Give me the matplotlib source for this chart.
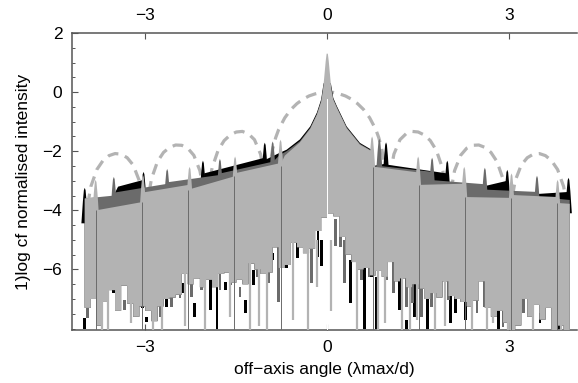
import numpy as np
import matplotlib.pyplot as plt
from matplotlib.ticker import MultipleLocator

# > Fonts
plt.rcParams['font.family'] = ['Liberation Sans', 'DejaVu Sans']

# > Colours (one per wavelength) and envelope
c_black, c_dark, c_light = '#000000', '#6b6b6b', '#b3b3b3'
c_dash = '#b3b3b3'

# > Single aperture envelope (dashed arcs)
env_x = [-3.95, -3.9, -3.8, -3.7, -3.6, -3.5, -3.4, -3.3, -3.2, -3.1, -3.05, -3.0,
         -2.95, -2.9, -2.8, -2.7, -2.6, -2.5, -2.4, -2.3, -2.2, -2.1, -2.05, -2.0,
         -1.95, -1.9, -1.8, -1.7, -1.6, -1.5, -1.4, -1.3, -1.2, -1.1, -1.05, -1.0,
         -0.95, -0.9, -0.85, -0.8, -0.7, -0.6, -0.5, -0.4, -0.3, -0.2, -0.1, 0.0,
         0.1, 0.2, 0.3, 0.4, 0.5, 0.6, 0.7, 0.8, 0.85, 0.9, 0.95,
         1.0, 1.05, 1.1, 1.2, 1.3, 1.4, 1.5, 1.6, 1.7, 1.8, 1.9, 1.95,
         2.0, 2.05, 2.1, 2.2, 2.3, 2.4, 2.5, 2.6, 2.7, 2.8, 2.9, 2.95,
         3.0, 3.05, 3.1, 3.2, 3.3, 3.4, 3.5, 3.6, 3.7, 3.8, 3.9, 3.95]
env_y = [-3.80, -3.20, -2.62, -2.32, -2.15, -2.08, -2.10, -2.22, -2.47, -3.00, -3.58, -4.5,
         -3.55, -2.94, -2.35, -2.04, -1.87, -1.79, -1.80, -1.90, -2.14, -2.66, -3.23, -4.5,
         -3.19, -2.57, -1.97, -1.64, -1.45, -1.35, -1.33, -1.41, -1.61, -2.10, -2.65, -4.5,
         -2.56, -1.92, -1.54, -1.26, -0.87, -0.59, -0.39, -0.24, -0.13, -0.06, -0.01, 0.0,
         -0.01, -0.06, -0.13, -0.24, -0.39, -0.59, -0.87, -1.26, -1.54, -1.92, -2.56,
         -4.5, -2.65, -2.10, -1.61, -1.41, -1.33, -1.35, -1.45, -1.64, -1.97, -2.57, -3.19,
         -4.5, -3.23, -2.66, -2.14, -1.90, -1.80, -1.79, -1.87, -2.04, -2.35, -2.94, -3.55,
         -4.5, -3.58, -3.00, -2.47, -2.22, -2.10, -2.08, -2.15, -2.32, -2.62, -3.20, -3.80]

# > Upper envelopes of the three intensity patterns
bk_top_x = [-4.0, -3.55, -3.45, -3.03, -3.03, -2.03, -2.03, -1.03,
            -1.03, -0.78, -0.67, -0.45, -0.28, -0.17, -0.10, -0.06, 0.06, 0.10, 0.16, 0.32, 0.54, 0.73,
            0.76, 0.97, 0.97, 1.97, 1.97, 2.6, 2.97, 2.97, 3.45, 3.97, 3.97, 4.0]
bk_top_y = [-3.75, -3.60, -3.20, -2.97, -3.30, -2.95, -2.75, -2.22,
            -2.30, -2.05, -1.95, -1.60, -1.16, -0.69, -0.25, 0.3, 0.3, -0.20, -0.48, -1.16, -1.72, -1.95,
            -2.50, -2.42, -2.45, -2.75, -3.20, -3.18, -3.00, -3.50, -3.45, -3.38, -3.30, -3.30]

dg_top_x = [-4.0, -3.51, -3.51, -2.63, -2.63, -1.76, -1.76, -0.89,
            -0.89, -0.78, -0.67, -0.45, -0.28, -0.17, -0.10, -0.06, 0.06, 0.10, 0.16, 0.32, 0.54, 0.73,
            0.76, 0.87, 0.87, 1.74, 1.74, 2.61, 2.61, 3.48, 3.48, 4.0]
dg_top_y = [-3.60, -3.50, -3.40, -3.10, -3.05, -2.80, -2.75, -2.35,
            -2.35, -2.12, -2.00, -1.66, -1.21, -0.74, -0.30, 0.2, 0.2, -0.23, -0.51, -1.19, -1.75, -1.98,
            -2.52, -2.50, -2.50, -2.70, -2.98, -3.12, -3.30, -3.38, -3.55, -3.65]

lg_top_x = [-4.0, -3.81, -3.81, -3.05, -3.05, -2.29, -2.29, -1.53, -1.53, -0.77,
            -0.77, -0.70, -0.45, -0.28, -0.17, -0.10, -0.07, -0.045, -0.025, -0.01,
            0.01, 0.025, 0.045, 0.07, 0.10, 0.16, 0.32, 0.54, 0.75,
            0.75, 1.51, 1.51, 2.27, 2.27, 3.03, 3.03, 3.79, 3.79, 4.0]
lg_top_y = [-3.60, -3.55, -4.00, -3.72, -3.40, -3.14, -3.30, -2.85, -2.75, -2.40,
            -2.45, -2.15, -1.70, -1.24, -0.77, -0.33, 0.05, 0.6, 1.05, 1.3,
            1.3, 1.05, 0.6, 0.05, -0.26, -0.54, -1.22, -1.78, -2.02,
            -2.52, -2.72, -3.14, -3.10, -3.55, -3.58, -3.48, -3.55, -3.75, -3.78]

# > Narrow grating-order peaks
bk_spike_x = [-4.0, -3.03, -2.05, -1.03, 0.97, 1.98, 2.97, 3.98]
bk_spike_y = [-3.24, -2.70, -2.32, -1.71, -1.70, -2.32, -2.63, -2.90]
dg_spike_x = [-3.52, -2.64, -1.77, -0.90, 0.86, 1.73, 2.60, 3.46]
dg_spike_y = [-2.87, -2.60, -2.26, -1.67, -1.58, -2.22, -2.56, -2.83]
lg_spike_x = [-3.82, -3.04, -2.27, -1.52, -0.77, 0.74, 1.50, 2.26, 3.04, 3.80]
lg_spike_y = [-2.97, -2.80, -2.53, -2.18, -1.61, -1.50, -2.18, -2.53, -2.75, -2.97]

# > Lower edge of the filled region, in 0.1 wide bins from -4 to 4
low_edges = np.linspace(-4.0, 4.0, 81)
lg_low = [-7.3, -7.0, -7.9, -7.1, -6.7, -7.4, -6.55, -7.15, -7.6, -7.25,
          -7.4, -7.75, -7.25, -7.0, -6.95, -6.85, -6.15, -6.5, -6.3, -6.6,
          -6.35, -6.6, -6.15, -6.1, -6.45, -6.35, -6.5, -5.8, -6.0, -6.15,
          -6.1, -5.25, -5.95, -5.85, -5.1, -5.25, -5.45, -5.3, -4.7, -4.25,
          -4.1, -4.2, -4.9, -5.5, -5.75, -6.0, -5.95, -6.2, -6.05, -6.25,
          -5.75, -6.4, -6.3, -6.6, -6.5, -6.65, -7.0, -6.8, -6.95, -6.4,
          -6.9, -7.0, -7.1, -7.25, -7.05, -6.4, -7.3, -7.6, -7.4, -7.8,
          -8.05, -7.9, -7.0, -7.6, -7.2, -7.7, -7.3, -8.05, -7.9, -8.05]

# > Deep nulls: bars of each pattern reaching below the light one
bk_bar_x = [-4.0, -3.52, -3.05, -2.98, -2.65, -2.37, -2.19, -1.92, -1.82, -1.68, -1.35, -1.22,
            -0.9, -0.67, -0.5, -0.49, -0.15, -0.1, 0.38, 0.61, 0.73, 0.81, 1.19, 1.31, 1.44,
            1.65, 2.03, 2.11, 2.28, 2.82, 3.15, 3.32, 3.51, 3.68, 3.82]
bk_bar_top = [-7.63, -6.68, -7.21, -7.6, -6.58, -6.47, -7.15, -6.36, -6.58, -6.41, -7.04, -6.02,
              -5.45, -5.85, -5.06, -5.08, -4.67, -5.0, -5.68, -5.45, -5.23, -6.25, -6.25, -7.72, -6.25,
              -6.81, -6.13, -6.92, -6.7, -7.15, -7.04, -6.98, -7.38, -6.7, -7.49]
bk_bar_bot = [-8.0, -6.81, -7.32, -7.77, -7.26, -6.81, -7.6, -7.38, -8.0, -6.7, -7.49, -6.53,
              -5.68, -5.96, -5.23, -5.62, -5.58, -5.9, -7.15, -8.0, -6.25, -8.0, -7.38, -8.0, -7.6,
              -8.0, -7.83, -7.49, -7.72, -8.0, -7.49, -7.55, -7.83, -7.26, -8.0]
dg_bar_x = [-3.96, -3.46, -3.34, -3.09, -2.76, -2.57, -2.43, -2.24, -2.07, -1.77, -1.6, -1.44,
            -1.16, -0.97, -0.8, -0.37, -0.26, 0.14, 0.22, 0.29, 0.57, 0.69, 0.98, 1.09, 1.31,
            1.41, 1.56, 1.72, 2.0, 2.22, 2.47, 2.6, 2.9, 3.24, 3.52, 3.66]
dg_bar_top = [-7.21, -6.7, -7.04, -6.81, -6.92, -6.58, -6.36, -6.47, -6.3, -6.13, -6.08, -6.58,
              -5.74, -5.9, -5.23, -5.0, -5.0, -4.3, -4.4, -5.0, -5.51, -5.11, -6.02, -5.62, -5.9,
              -6.3, -6.58, -6.7, -6.36, -6.08, -6.98, -6.3, -6.36, -6.98, -6.53, -6.64]
dg_bar_bot = [-7.63, -7.38, -7.38, -7.26, -7.6, -7.26, -6.98, -6.92, -6.7, -6.7, -6.53, -6.92,
              -6.25, -6.47, -7.09, -5.45, -6.47, -5.2, -5.25, -6.47, -6.36, -6.25, -6.36, -6.81, -7.26,
              -7.15, -7.6, -7.26, -7.04, -6.7, -7.49, -7.26, -7.94, -7.49, -7.49, -7.26]

# > Light pattern lines running down to the axis
lg_drop_x = [-3.71, -3.61, -3.23, -2.87, -2.73, -2.35, -2.02, -1.6, -1.27, -1.12, -1.0, -0.56,
             -0.31, -0.17, 0.07, 0.49, 0.84, 0.95, 1.23, 1.37, 1.48, 1.78, 1.94, 2.38, 2.63,
             2.74, 2.98, 3.4, 3.73, 3.86, 3.95]
lg_drop_bot = [-8.05, -8.05, -7.8, -8.05, -8.05, -7.9, -8.05, -7.6, -8.05, -7.9, -8.05, -7.7,
               -8.05, -6.6, -7.4, -8.05, -8.05, -7.8, -8.05, -8.05, -7.7, -8.05, -7.9, -8.05, -8.05,
               -7.8, -8.05, -8.05, -8.05, -8.05, -8.05]

# > Steps of the light pattern and the on-axis null
lg_edge_x = [-3.81, -3.05, -2.29, -1.53, -0.77, 0.75, 1.51, 2.27, 3.03, 3.79]
lg_edge_top = [-4.0, -3.72, -3.3, -2.85, -2.5, -2.52, -3.14, -3.55, -3.58, -3.75]
null_x, null_top = 0.0, -0.25

y_bottom, y_top = -8.05, 2.0


def series_polygon(top_x, top_y, edges, low):
    xs, ys = list(top_x), list(top_y)
    for i in range(len(low) - 1, -1, -1):
        xs += [edges[i + 1], edges[i]]
        ys += [low[i], low[i]]
    return xs, ys


def draw_spikes(ax, xs, peaks, colour, z):
    # rounded-ish narrow peak that widens into the band below it
    for x, p in zip(xs, peaks):
        ax.fill([x - 0.055, x - 0.03, x - 0.014, x, x + 0.014, x + 0.03, x + 0.055],
                [p - 1.2, p - 0.45, p - 0.08, p, p - 0.08, p - 0.45, p - 1.2],
                color=colour, lw=0, zorder=z)


fig = plt.figure(figsize=(5.78, 3.83), dpi=100)
ax = fig.add_axes([72 / 578, 53 / 383, 505 / 578, 297 / 383])

# envelope sits behind everything
ax.plot(env_x, env_y, color=c_dash, lw=2.3, dashes=(3.4, 2.2), zorder=1)

# black pattern
px, py = series_polygon(bk_top_x, bk_top_y, low_edges, lg_low)
ax.fill(px, py, color=c_black, lw=0, zorder=2)
draw_spikes(ax, bk_spike_x, bk_spike_y, c_black, 2)
ax.bar(bk_bar_x, np.array(bk_bar_top) - np.array(bk_bar_bot), bottom=bk_bar_bot,
       width=0.045, color=c_black, lw=0, zorder=2)

# dark grey pattern
px, py = series_polygon(dg_top_x, dg_top_y, low_edges, lg_low)
ax.fill(px, py, color=c_dark, lw=0, zorder=3)
draw_spikes(ax, dg_spike_x, dg_spike_y, c_dark, 3)
ax.bar(dg_bar_x, np.array(dg_bar_top) - np.array(dg_bar_bot), bottom=dg_bar_bot,
       width=0.045, color=c_dark, lw=0, zorder=3)

# light grey pattern
px, py = series_polygon(lg_top_x, lg_top_y, low_edges, lg_low)
ax.fill(px, py, color=c_light, lw=0, zorder=4)
draw_spikes(ax, lg_spike_x, lg_spike_y, c_light, 4)
ax.vlines(lg_drop_x, lg_drop_bot, -5.0, color=c_light, lw=1.6, zorder=4)
ax.vlines(lg_edge_x, y_bottom, lg_edge_top, color=c_dark, lw=0.7, zorder=4.5)
ax.bar([null_x], [null_top - y_bottom], bottom=y_bottom, width=0.02,
       color='white', lw=0, zorder=5)

# > Axes styling
ax.set_xlim(-4.21, 4.12)
ax.set_ylim(y_bottom, y_top)
ax.set_xticks([-3, 0, 3])
ax.set_yticks([-6, -4, -2, 0, 2])
ax.yaxis.set_minor_locator(MultipleLocator(0.5))
ax.tick_params(axis='x', which='both', direction='in', top=True, labeltop=True,
               length=4, width=0.8, color='#555555', labelsize=12.5, pad=7)
ax.tick_params(axis='y', which='major', direction='in', length=4, width=0.8,
               color='#555555', labelsize=12.5, pad=7)
ax.tick_params(axis='y', which='minor', direction='in', length=2.5, width=0.7,
               color='#555555')
for side in ['top', 'bottom', 'left']:
    ax.spines[side].set_color('#555555')
    ax.spines[side].set_linewidth(1.1)
ax.spines['right'].set_visible(False)

ax.set_xlabel('off\u2212axis angle (\u03bbmax/d)', fontsize=12.5, labelpad=5)
ax.set_ylabel('1)log cf normalised intensity', fontsize=12.5, labelpad=8)

plt.savefig('out.png', dpi=100)
